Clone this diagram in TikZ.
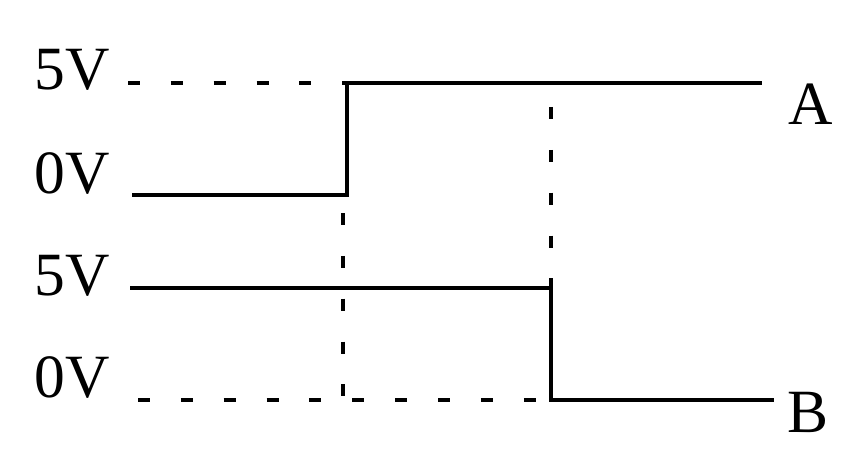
\documentclass[tikz,border=0pt]{standalone}
\usepackage{fontspec}
\setmainfont{Liberation Serif}
\usepackage{tikz}
\usetikzlibrary{positioning}

\tikzset{
  level/.style={anchor=base, inner sep=0pt, font=\fontsize{35}{40}\selectfont},
  signal/.style={line width=2.3pt, line join=miter},
  guide/.style={line width=2.3pt, dash pattern=on 6.8pt off 17.6pt}
}

\begin{document}
\begin{tikzpicture}[x=0.02cm, y=-0.02cm]
  \useasboundingbox (0,0) rectangle (848,456);

  % level labels
  \node[level] (hiA) at (72,90)  {5V};
  \node[level] (loA) at (72,193) {0V};
  \node[level] (hiB) at (72,295) {5V};
  \node[level] (loB) at (72,397) {0V};
  \node[level] (nameA) at (811,125) {A};
  \node[level] (nameB) at (808,432) {B};

  % signal A
  \coordinate (a0) at (132,195);
  \coordinate (a1) at (347,195);
  \coordinate (a2) at (347,83);
  \coordinate (a3) at (762,83);
  % signal B
  \coordinate (b0) at (130,288);
  \coordinate (b1) at (551,288);
  \coordinate (b2) at (551,400);
  \coordinate (b3) at (774,400);
  % guide ends
  \coordinate (gA) at (128,83);
  \coordinate (gB) at (138,400);
  \coordinate (tA) at (343,213);
  \coordinate (tAe) at (343,400);
  \coordinate (tB) at (551,107);

  \draw[signal] (a0) -- (a1) -- (a2) -- (a3);
  \draw[signal] (b0) -- (b1) -- (b2) -- (b3);

  \draw[guide] (gA) -- (a2);
  \draw[guide] (gB) -- (b2);
  \draw[guide] (tA) -- (tAe);
  \draw[guide] (tB) -- (b1);
\end{tikzpicture}
\end{document}
